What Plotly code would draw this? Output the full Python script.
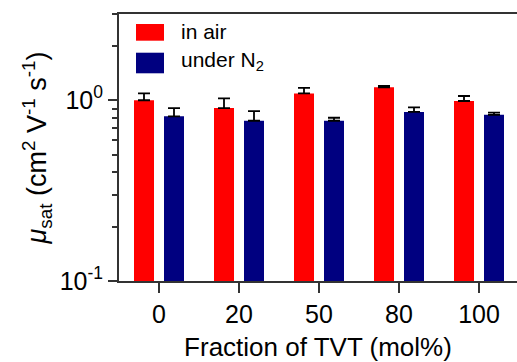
import plotly.graph_objects as go

categories = ["0", "20", "50", "80", "100"]
air_values = [1.00, 0.905, 1.09, 1.18, 0.99]
air_err = [0.09, 0.12, 0.08, 0.02, 0.065]
n2_values = [0.815, 0.77, 0.77, 0.862, 0.83]
n2_err = [0.09, 0.10, 0.03, 0.05, 0.025]
series_names = ["in air", "under N<sub>2</sub>"]
colors = ["#FF0000", "#000080"]

FONT = "Liberation Sans, Arial, sans-serif"

fig = go.Figure()
for name, vals, errs, col in [(series_names[0], air_values, air_err, colors[0]),
                              (series_names[1], n2_values, n2_err, colors[1])]:
    fig.add_trace(go.Bar(
        x=categories, y=vals, name=name, marker_color=col,
        marker_line_width=0,
        error_y=dict(type="data", symmetric=False, array=errs,
                     arrayminus=[0] * len(errs), color="black",
                     thickness=1.8, width=6),
        showlegend=False,
    ))

# manual legend (paper coords)
W, H = 517, 362
ml, mr, mt, mb = 119, 0, 14, 81
pw, ph = W - ml - mr, H - mt - mb

def px(x):
    return (x - ml) / pw

def py(y):
    return 1 - (y - mt) / ph

legend_items = [(series_names[0], colors[0], 24, 40.7, 31),
                (series_names[1], colors[1], 52.7, 73.3, 61)]
for name, col, y0, y1, ty in legend_items:
    fig.add_shape(type="rect", xref="paper", yref="paper",
                  x0=px(136), x1=px(164), y0=py(y1), y1=py(y0),
                  fillcolor=col, line_width=0)
    fig.add_annotation(xref="paper", yref="paper", x=px(179), y=py(ty),
                       text=name, showarrow=False, xanchor="left",
                       yanchor="middle",
                       font=dict(family=FONT, size=21, color="black"))

fig.update_layout(
    width=W, height=H,
    margin=dict(l=ml, r=mr, t=mt, b=mb),
    paper_bgcolor="white", plot_bgcolor="white",
    barmode="group", bargap=0.25, bargroupgap=1 / 3,
    font=dict(family=FONT, color="black"),
)
fig.update_xaxes(
    type="category", range=[-0.5, 4.475],
    showline=True, linecolor="#333333", linewidth=2, mirror=True,
    ticks="outside", ticklen=10, tickwidth=1.5, tickcolor="#333333",
    tickfont=dict(family=FONT, size=25, color="black"),
    title=dict(text="Fraction of TVT (mol%)", standoff=15,
               font=dict(family=FONT, size=26, color="black")),
    showgrid=False,
)
fig.update_yaxes(
    type="log", range=[-1, 0.477],
    showline=True, linecolor="#333333", linewidth=2,
    ticks="outside", ticklen=9, tickwidth=1.5, tickcolor="#333333",
    tickvals=[0.1, 1], ticktext=["10<sup>-1</sup>", "10<sup>0</sup>"],
    tickfont=dict(family=FONT, size=25, color="black"),
    minor=dict(ticks="outside", ticklen=5, tickwidth=1.5, tickcolor="#333333",
               tickvals=[0.2, 0.3, 0.4, 0.5, 0.6, 0.7, 0.8, 0.9, 2, 3],
               showgrid=False),
    title=dict(text="<i>μ</i><sub>sat</sub> (cm<sup>2</sup> V<sup>-1</sup> s<sup>-1</sup>)",
               standoff=5, font=dict(family=FONT, size=27, color="black")),
    showgrid=False, zeroline=False,
)

fig.write_html("out.html")
